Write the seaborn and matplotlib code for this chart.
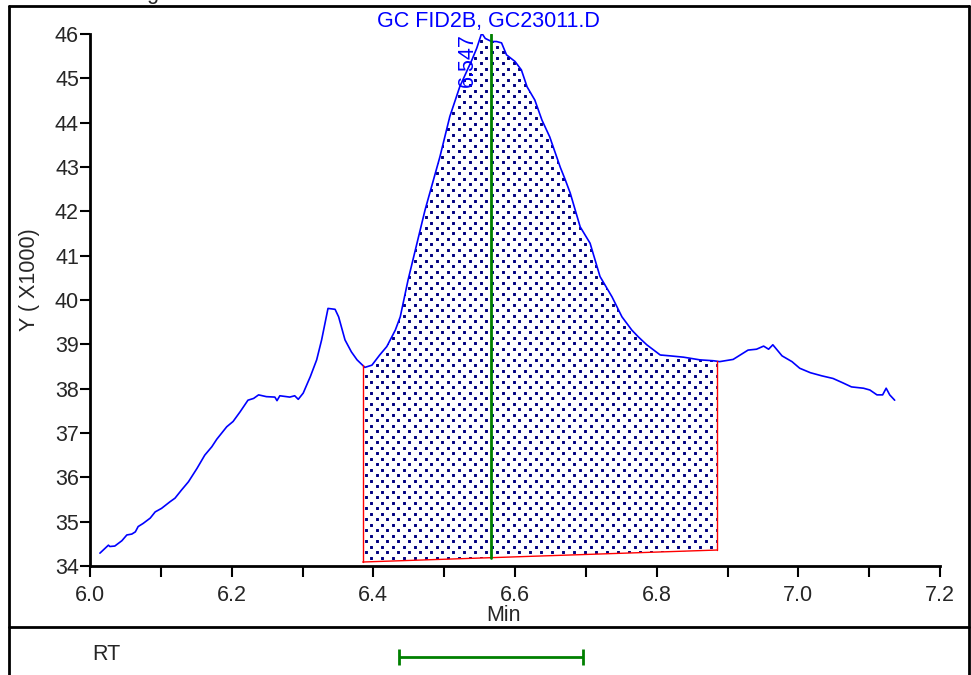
import numpy as np
import matplotlib
matplotlib.use("Agg")
import matplotlib.pyplot as plt
from matplotlib.lines import Line2D
from matplotlib.ticker import MultipleLocator, FormatStrFormatter
import seaborn as sns

# chromatogram trace (min, signal x1000)
rt = [6.014, 6.026, 6.028, 6.035, 6.045, 6.052, 6.059, 6.064, 6.068, 6.075,
      6.085, 6.092, 6.101, 6.113, 6.120, 6.129, 6.139, 6.151, 6.162, 6.172,
      6.179, 6.193, 6.202, 6.212, 6.223, 6.231, 6.238, 6.249, 6.261, 6.264,
      6.268, 6.282, 6.289, 6.294, 6.301, 6.308, 6.311, 6.320, 6.327, 6.336,
      6.346, 6.351, 6.360, 6.369, 6.377, 6.388, 6.398, 6.409, 6.419, 6.431,
      6.438, 6.449, 6.473, 6.494, 6.508, 6.522, 6.539, 6.546, 6.553, 6.558,
      6.567, 6.574, 6.581, 6.588, 6.600, 6.609, 6.617, 6.628, 6.638, 6.649,
      6.664, 6.671, 6.678, 6.692, 6.706, 6.720, 6.737, 6.751, 6.765, 6.774,
      6.786, 6.805, 6.819, 6.838, 6.861, 6.880, 6.889, 6.908, 6.922, 6.929,
      6.941, 6.951, 6.958, 6.964, 6.977, 6.991, 7.002, 7.017, 7.033, 7.049,
      7.063, 7.075, 7.092, 7.101, 7.111, 7.119, 7.124, 7.129, 7.136]
signal = [34.29, 34.47, 34.44, 34.45, 34.57, 34.70, 34.72, 34.77, 34.89, 34.96,
          35.08, 35.22, 35.30, 35.45, 35.53, 35.71, 35.90, 36.20, 36.50, 36.69,
          36.86, 37.14, 37.26, 37.48, 37.74, 37.78, 37.86, 37.82, 37.81, 37.73,
          37.84, 37.81, 37.84, 37.76, 37.90, 38.16, 38.27, 38.65, 39.10, 39.81,
          39.79, 39.62, 39.10, 38.83, 38.65, 38.48, 38.53, 38.76, 38.95, 39.32,
          39.62, 40.45, 42.03, 43.23, 44.14, 44.81, 45.41, 45.68, 46.02, 45.90,
          45.83, 45.83, 45.80, 45.53, 45.38, 45.19, 44.81, 44.51, 44.06, 43.68,
          42.99, 42.71, 42.41, 41.65, 41.28, 40.53, 40.07, 39.62, 39.32, 39.17,
          38.99, 38.76, 38.74, 38.71, 38.65, 38.63, 38.61, 38.66, 38.80, 38.87,
          38.89, 38.96, 38.89, 38.99, 38.74, 38.61, 38.46, 38.36, 38.29, 38.23,
          38.13, 38.04, 38.01, 37.97, 37.86, 37.86, 38.01, 37.86, 37.74]

# integration window and baseline
peak_start, peak_end = 6.385, 6.885
base_start, base_end = 34.09, 34.36
peak_rt = 6.566
peak_label = "6.547"
rt_window = [6.436, 6.696]

title = "GC FID2B, GC23011.D"

sns.set_style("ticks")
plt.rcParams["font.family"] = ["Liberation Sans", "DejaVu Sans"]

fig = plt.figure(figsize=(9.71, 6.75), dpi=100)
ax = fig.add_axes([90 / 971, 1 - 566 / 675, 850 / 971, 532 / 675])

sns.lineplot(x=rt, y=signal, ax=ax, color="#0000ff", linewidth=1.2)

# shaded peak area
rt_arr = np.array(rt)
sig_arr = np.array(signal)
inside = (rt_arr > peak_start) & (rt_arr < peak_end)
xs = np.concatenate([[peak_start], rt_arr[inside], [peak_end]])
ys = np.interp(xs, rt_arr, sig_arr)
base = np.interp(xs, [peak_start, peak_end], [base_start, base_end])
area = ax.fill_between(xs, base, ys, facecolor="none", linewidth=0)

# dotted fill texture, clipped to the peak area
dx, dy = 0.0155, 0.124
gx, gy = [], []
for i, yy in enumerate(np.arange(34.0, 46.2, dy)):
    off = dx / 2 if i % 2 else 0
    for xx in np.arange(peak_start + off + 0.004, peak_end, dx):
        gx.append(xx)
        gy.append(yy + 0.06)
dots = ax.scatter(gx, gy, marker="s", s=4.4, color="#000080", linewidths=0)
dots.set_snap(False)
dots.set_clip_path(area.get_paths()[0], ax.transData)

ax.plot([peak_start, peak_end], [base_start, base_end], color="red", lw=1)
ax.plot([peak_start, peak_start], [base_start, ys[0]], color="red", lw=1)
ax.plot([peak_end, peak_end], [base_end, ys[-1]], color="red", lw=1)

# retention time marker
base_at_peak = np.interp(peak_rt, [peak_start, peak_end], [base_start, base_end])
ax.plot([peak_rt, peak_rt], [base_at_peak, 46], color="#008000", lw=2)
ax.text(peak_rt - 0.033, 46.02, peak_label, rotation=90, ha="center", va="top",
        color="#0000ff", fontsize=15.5)

ax.set_xlim(6.0, 7.2)
ax.set_ylim(34, 46)
ax.xaxis.set_major_locator(MultipleLocator(0.2))
ax.xaxis.set_minor_locator(MultipleLocator(0.1))
ax.xaxis.set_major_formatter(FormatStrFormatter("%.1f"))
ax.yaxis.set_major_locator(MultipleLocator(1))
ax.tick_params(axis="y", direction="out", length=7, width=1.5, pad=1,
               labelsize=15.5, color="black")
ax.tick_params(axis="x", which="both", direction="out", length=8, width=1.5,
               pad=6, labelsize=15.5, color="black")
sns.despine(ax=ax)
for s in ["left", "bottom"]:
    ax.spines[s].set_linewidth(2)
    ax.spines[s].set_color("black")

ax.set_xlabel("Min", fontsize=15.5)
ax.xaxis.set_label_coords(0.487, -0.073)
ax.set_ylabel("Y ( X1000)", fontsize=15.5)
ax.yaxis.set_label_coords(-0.059, 0.538)
ax.text(0.469, 1.0226, title, transform=ax.transAxes, ha="center",
        va="center", color="#0000ff", fontsize=15.5)

# lower RT panel
ax2 = fig.add_axes([90 / 971, 0, 850 / 971, 48 / 675])
ax2.set_xlim(6.0, 7.2)
ax2.set_ylim(0, 1)
ax2.axis("off")
mid = (rt_window[0] + rt_window[1]) / 2
half = (rt_window[1] - rt_window[0]) / 2
ax2.errorbar([mid], [0.375], xerr=[half], fmt="none", ecolor="#008000",
             elinewidth=2, capsize=6, capthick=2)
fig.text(92 / 971, 1 - 655 / 675, "RT", fontsize=15.5, va="center", ha="left")

# report frame
lw = 2
fig.add_artist(Line2D([9 / 971, 969 / 971], [1 - 6 / 675, 1 - 6 / 675], color="black", lw=lw))
fig.add_artist(Line2D([9 / 971, 969 / 971], [1 - 627 / 675, 1 - 627 / 675], color="black", lw=lw))
fig.add_artist(Line2D([9 / 971, 9 / 971], [0, 1 - 6 / 675], color="black", lw=lw))
fig.add_artist(Line2D([969 / 971, 969 / 971], [0, 1 - 6 / 675], color="black", lw=lw))
fig.text(128 / 971, 1 + 1 / 675, "Signal", fontsize=15.5, va="baseline", ha="left")

fig.savefig("out.png", dpi=100)
